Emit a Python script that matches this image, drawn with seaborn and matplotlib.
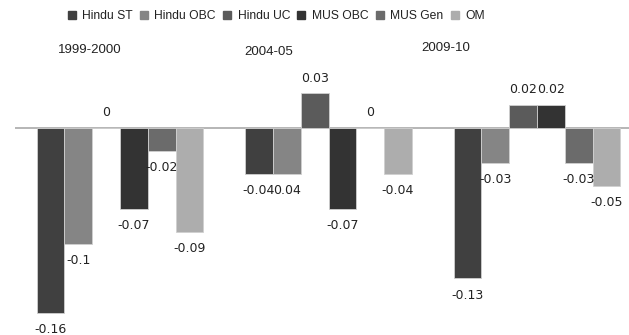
import matplotlib
matplotlib.use("Agg")
import matplotlib.pyplot as plt
from matplotlib.lines import Line2D
import pandas as pd
import seaborn as sns

# Change in share by social group, three survey rounds
periods = ["1999-2000", "2004-05", "2009-10"]
groups = ["Hindu ST", "Hindu OBC", "Hindu UC", "MUS OBC", "MUS Gen", "OM"]

hindu_st = [-0.16, -0.04, -0.13]
hindu_obc = [-0.10, -0.04, -0.03]
hindu_uc = [0.00, 0.03, 0.02]
mus_obc = [-0.07, -0.07, 0.02]
mus_gen = [-0.02, 0.00, -0.03]
om = [-0.09, -0.04, -0.05]

# label text as printed in the source table (one entry carries no sign)
label_overrides = {("2004-05", "Hindu OBC"): "0.04"}

colors = ["#404040", "#858585", "#5b5b5b", "#333333", "#6b6b6b", "#adadad"]

series = [hindu_st, hindu_obc, hindu_uc, mus_obc, mus_gen, om]
rows = []
for g, vals in zip(groups, series):
    for p, v in zip(periods, vals):
        rows.append({"period": p, "group": g, "value": v})
df = pd.DataFrame(rows)

sns.set_theme(style="white")

W, H = 629, 335
fig = plt.figure(figsize=(W / 100, H / 100), dpi=100)
ax = fig.add_axes([15 / W, 0, 614 / W, 1])

sns.barplot(data=df, x="period", y="value", hue="group", order=periods,
            hue_order=groups, palette=colors, width=0.8, saturation=1,
            edgecolor="#d0d0d0", linewidth=0.6, legend=False, ax=ax)

ax.axhline(0, color="#b0b0b0", lw=1.3, zorder=0.5)
ax.set_xlim(-0.5036, 2.441)
ax.set_ylim(-0.179, 0.1107)
ax.set_axis_off()

# value labels just beyond the end of each bar
for container, g in zip(ax.containers, groups):
    for bar, p in zip(container, periods):
        v = bar.get_height()
        txt = label_overrides.get((p, g), f"{round(v, 2):g}")
        off = -12 if v < 0 else 11
        ax.annotate(txt, (bar.get_x() + bar.get_width() / 2, v),
                    xytext=(0, off), textcoords="offset points",
                    ha="center", va="center", fontsize=9,
                    color="#222222", family="DejaVu Sans")

# period captions above the chart
for p, (px, py) in zip(periods, [(90, 50), (269, 52), (446, 48)]):
    fig.text(px / W, 1 - py / H, p, ha="center", va="center",
             fontsize=9.5, color="#222222", family="Liberation Sans")

handles = [Line2D([], [], marker="s", ls="", markersize=5.2,
                  markerfacecolor=c, markeredgecolor=c) for c in colors]
fig.legend(handles, groups, loc="center", ncol=6,
           bbox_to_anchor=(276 / W, 1 - 16 / H), frameon=False,
           prop={"family": "Liberation Sans", "size": 8.7}, handlelength=0.7,
           handletextpad=0.5, columnspacing=0.6, labelcolor="#222222")

fig.savefig("out.png", dpi=100)
